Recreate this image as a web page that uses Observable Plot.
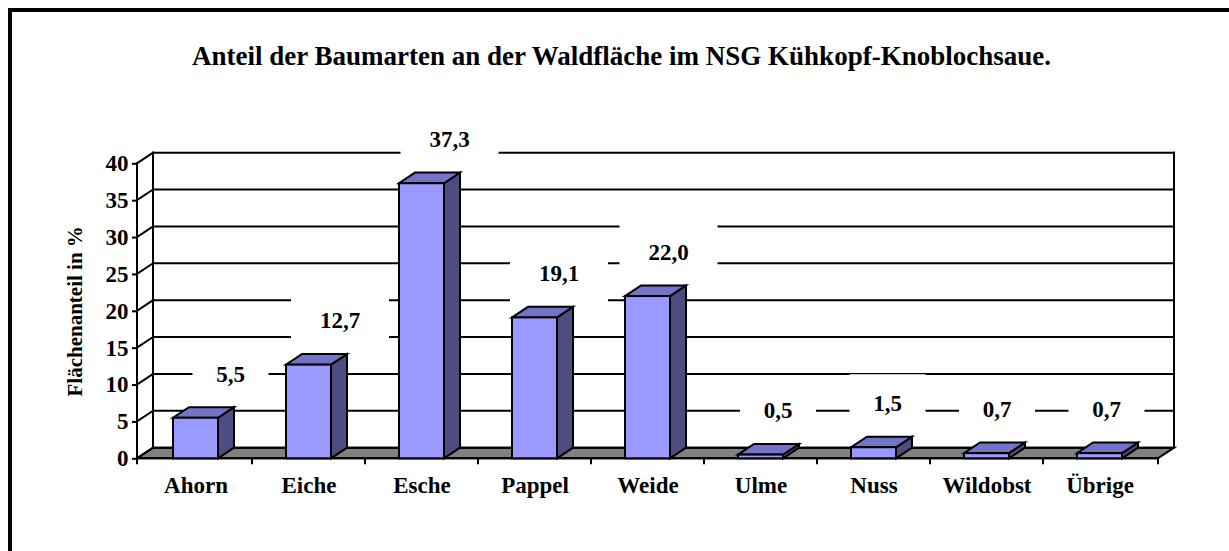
<!DOCTYPE html>
<html><head><meta charset="utf-8">
<script src="https://cdn.jsdelivr.net/npm/d3@7"></script>
<script src="https://cdn.jsdelivr.net/npm/@observablehq/plot@0.6"></script>
<style>
html,body{margin:0;padding:0;background:#fff;overflow:hidden;}
#wrap{position:relative;width:1229px;height:551px;overflow:hidden;font-family:"Liberation Serif","Times New Roman",serif;}
#frame{position:absolute;left:8px;top:8px;width:1400px;height:800px;border-left:4px solid #000;border-top:4px solid #000;}
#title{position:absolute;left:0;top:43px;width:1243px;text-align:center;font-weight:bold;font-size:27px;line-height:27px;white-space:nowrap;}
#chart{position:absolute;left:0;top:100px;}
</style></head><body>
<div id="wrap"><div id="frame"></div><div id="title"></div><div id="chart"></div></div>
<script>
// ---- data ----
const title = "Anteil der Baumarten an der Waldfläche im NSG Kühkopf-Knoblochsaue.";
const yTitle = "Flächenanteil in %";
const categories = ["Ahorn", "Eiche", "Esche", "Pappel", "Weide", "Ulme", "Nuss", "Wildobst", "Übrige"];
const shares = [5.5, 12.7, 37.3, 19.1, 22.0, 0.5, 1.5, 0.7, 0.7];
const valueLabels = ["5,5", "12,7", "37,3", "19,1", "22,0", "0,5", "1,5", "0,7", "0,7"];
const yTicks = [0, 5, 10, 15, 20, 25, 30, 35, 40];

const rows = categories.map((c, i) => ({cat: c, v: shares[i], label: valueLabels[i], i}));

// ---- style ----
const DX = 16, DY = -10.6, SW = 2;
const FRONT = "#9999FF", TOP = "#7474C6", SIDE = "#4D4D80", FLOOR = "#808080";
const FONT = "Liberation Serif, Times New Roman, serif";

document.getElementById("title").textContent = title;

const NS = "http://www.w3.org/2000/svg";
function el(tag, attrs) { const e = document.createElementNS(NS, tag); for (const k in attrs) e.setAttribute(k, attrs[k]); return e; }
function poly(pts, fill) { return el("polygon", {points: pts.map(p => p.join(",")).join(" "), fill, stroke: "#000", "stroke-width": SW, "stroke-linejoin": "miter"}); }
function seg(x1, y1, x2, y2) { return el("line", {x1, y1, x2, y2, stroke: "#000", "stroke-width": SW, "stroke-linecap": "square"}); }
function bandw(sx) { return typeof sx.bandwidth === "function" ? sx.bandwidth() : sx.bandwidth; }

// walls, floor, grid, axis lines, boundary ticks
function walls(index, s, values, dim) {
  const g = el("g", {});
  const x0 = dim.marginLeft, x1 = dim.width - dim.marginRight;
  const y0 = s.y(0), yt = s.y(yTicks[yTicks.length - 1]);
  g.append(poly([[x0, y0], [x1, y0], [x1 + DX, y0 + DY], [x0 + DX, y0 + DY]], FLOOR));
  for (const t of yTicks) {
    const y = s.y(t);
    g.append(seg(x0 + DX, y + DY, x1 + DX, y + DY));
    g.append(seg(x0, y, x0 + DX, y + DY));
  }
  g.append(seg(x0 + DX, y0 + DY, x0 + DX, yt + DY));
  g.append(seg(x1 + DX, y0 + DY, x1 + DX, yt + DY));
  g.append(seg(x0, y0, x0, yt));
  g.append(seg(x0, y0, x1, y0));
  const w = bandw(s.x);
  const bounds = [x0];
  for (let i = 1; i < categories.length; i++) bounds.push((s.x(categories[i - 1]) + w + s.x(categories[i])) / 2);
  bounds.push(x1);
  for (const b of bounds) g.append(seg(b, y0, b, y0 + 5));
  return g;
}

// top and side faces of bars
function barSides(index, s, values, dim) {
  const g = el("g", {});
  const w = bandw(s.x), yb = s.y(0);
  for (const r of rows) {
    const xl = s.x(r.cat), xr = xl + w, yt = s.y(r.v);
    g.append(poly([[xr, yt], [xr + DX, yt + DY], [xr + DX, yb + DY], [xr, yb]], SIDE));
    g.append(poly([[xl, yt], [xr, yt], [xr + DX, yt + DY], [xl + DX, yt + DY]], TOP));
  }
  return g;
}

// value labels with white boxes
function valueBoxes(index, s, values, dim) {
  const g = el("g", {});
  const w = bandw(s.x);
  for (const r of rows) {
    const cx = s.x(r.cat) + w / 2 + (35 - 3.5 * r.i);
    const cy = s.y(r.v) - 44;
    const bw = r.label.length > 3 ? 98 : 76;
    g.append(el("rect", {x: cx - bw / 2, y: cy - 29, width: bw, height: 58, fill: "#fff"}));
    const t = el("text", {x: cx, y: cy, dy: "0.34em", "text-anchor": "middle", "font-family": FONT, "font-size": 23, "font-weight": "bold", fill: "#000"});
    t.textContent = r.label;
    g.append(t);
  }
  return g;
}

const chart = Plot.plot({
  width: 1229,
  height: 451,
  marginLeft: 137,
  marginRight: 71,
  marginTop: 63.3,
  marginBottom: 92.7,
  style: {fontFamily: FONT, fontSize: "23px", fontWeight: "bold", color: "#000", background: "transparent", overflow: "visible"},
  x: {type: "band", domain: categories, paddingInner: 0.6, paddingOuter: 0.3},
  y: {domain: [0, 40]},
  marks: [
    walls,
    barSides,
    Plot.barY(rows, {x: "cat", y: "v", fill: FRONT, stroke: "#000", strokeWidth: SW}),
    valueBoxes,
    Plot.axisY({ticks: yTicks, tickSize: 5, tickPadding: 4, strokeWidth: SW, label: null, tickFormat: d => String(d)}),
    Plot.axisX({tickSize: 0, tickPadding: 18, label: null}),
    Plot.text([yTitle], {frameAnchor: "left", textAnchor: "middle", rotate: -90, dx: -62, fontSize: 21, fontWeight: "bold"})
  ]
});
document.getElementById("chart").append(chart);
</script>
</body></html>
